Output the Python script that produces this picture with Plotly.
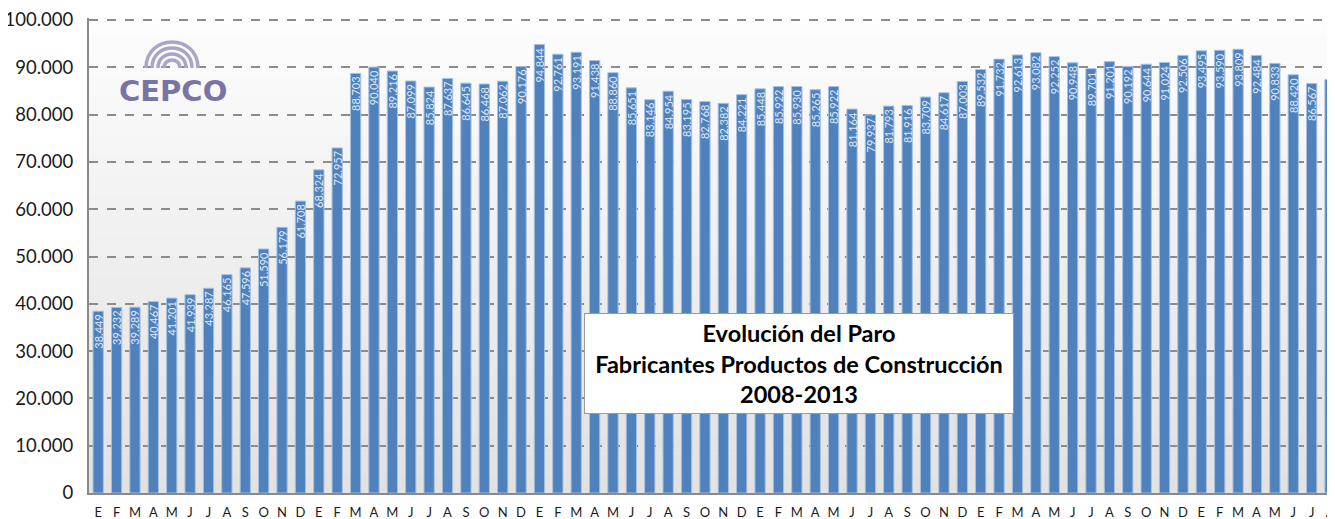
import plotly.graph_objs as go

#### Data ##############################################################
meses = ["E", "F", "M", "A", "M", "J", "J", "A", "S", "O", "N", "D"]

paro_2008 = [38449, 39232, 39289, 40467, 41201, 41939,
             43287, 46165, 47596, 51590, 56179, 61708]
paro_2009 = [68324, 72957, 88703, 90040, 89216, 87099,
             85824, 87637, 86645, 86468, 87062, 90176]
paro_2010 = [94844, 92761, 93191, 91438, 88860, 85651,
             83146, 84954, 83195, 82768, 82382, 84221]
paro_2011 = [85448, 85922, 85930, 85265, 85922, 81164,
             79937, 81793, 81916, 83709, 84617, 87003]
paro_2012 = [89532, 91732, 92613, 93082, 92252, 90948,
             89701, 91201, 90192, 90644, 91024, 92506]
paro_2013 = [93495, 93590, 93809, 92484, 90833, 88420,
             86567, 87424]

valores = paro_2008 + paro_2009 + paro_2010 + paro_2011 + paro_2012 + paro_2013
posiciones = list(range(len(valores)))
etiquetas = [meses[i % 12] for i in posiciones]
textos = [f"{v:,}".replace(",", ".") for v in valores]

FONT = "Lato"

# The page body adds an 8px margin, so the figure is drawn 8px smaller
# and the plot area is placed so it lands where the reference has it.
OFF = 8
W, H = 1335 - OFF, 519 - OFF
# plot area in page pixels (top a little above the 100.000 line)
L, R, T, B = 89, 1335, 18, 493
Y_MAX = 100000 * (B - T) / (B - 20)


def px(x):
    return (x - L) / (R - L)


def py(y):
    return (B - y) / (B - T)


#### Figure ############################################################
fig = go.Figure()

fig.add_trace(go.Bar(
    x=posiciones,
    y=valores,
    width=0.56,
    marker=dict(color="#4f81bd", line=dict(color="#a9c1e0", width=1)),
    text=textos,
    textposition="inside",
    insidetextanchor="end",
    textangle=-90,
    constraintext="none",
    textfont=dict(family=FONT, size=11, color="#dfe8f4"),
    hoverinfo="x+y",
))

# Vertical gradient for the plot background
n_bands = 24
for i in range(n_bands):
    g = int(253 - (253 - 226) * i / (n_bands - 1))
    fig.add_shape(
        type="rect", xref="x domain", yref="y domain",
        x0=0, x1=1, y0=1 - (i + 1) / n_bands, y1=1 - i / n_bands,
        fillcolor=f"rgb({g},{g},{g})", line_width=0, layer="below",
    )

fig.update_layout(
    width=W,
    height=H,
    margin=dict(l=L - OFF, r=0, t=T - OFF, b=H - (B - OFF), autoexpand=False),
    paper_bgcolor="white",
    plot_bgcolor="#f2f2f2",
    separators=",.",
    showlegend=False,
    font=dict(family=FONT, color="#1a1a1a"),
)

fig.update_xaxes(
    range=[-0.5, 67.27],
    tickmode="array",
    tickvals=posiciones,
    ticktext=etiquetas,
    tickfont=dict(family=FONT, size=13, color="#1a1a1a"),
    ticklabelstandoff=6,
    automargin=False,
    showgrid=False,
    showline=True,
    linecolor="#8a8a8a",
    linewidth=2,
    zeroline=False,
    fixedrange=True,
)

fig.update_yaxes(
    range=[0, Y_MAX],
    tickmode="linear",
    tick0=0,
    dtick=10000,
    tickformat=",d",
    tickfont=dict(family=FONT, size=18.5, color="#1a1a1a"),
    ticklabelstandoff=10,
    ticklabeloverflow="allow",
    automargin=False,
    showgrid=True,
    gridcolor="#8c8c8c",
    gridwidth=1.5,
    griddash="dash",
    showline=True,
    linecolor="#8a8a8a",
    linewidth=2,
    zeroline=False,
    fixedrange=True,
)

# Title box
fig.add_annotation(
    xref="paper", yref="paper",
    x=px(799), y=py(363), xanchor="center", yanchor="middle",
    text="<b>Evolución del Paro<br>Fabricantes Productos de Construcción<br>2008-2013</b>",
    showarrow=False,
    font=dict(family=FONT, size=23.5, color="black"),
    align="center",
    bgcolor="white",
    bordercolor="#9a9a9a",
    borderwidth=1,
    borderpad=5,
    width=418,
)

# Logo: arches + name
for r in (8, 14, 20, 26):
    cx, cy = 172, 68
    path = (f"M {px(cx - r)},{py(cy)} "
            f"C {px(cx - r)},{py(cy - 1.33 * r)} {px(cx + r)},{py(cy - 1.33 * r)} {px(cx + r)},{py(cy)}")
    fig.add_shape(type="path", xref="paper", yref="paper", path=path,
                  line=dict(color="#a9a5c8", width=3.5), layer="above")

fig.add_annotation(
    xref="paper", yref="paper",
    x=px(173), y=py(91), xanchor="center", yanchor="middle",
    text="<b>CEPCO</b>",
    showarrow=False,
    font=dict(family="DejaVu Sans", size=29, color="#7a74a6"),
)

fig.write_html("out.html")
